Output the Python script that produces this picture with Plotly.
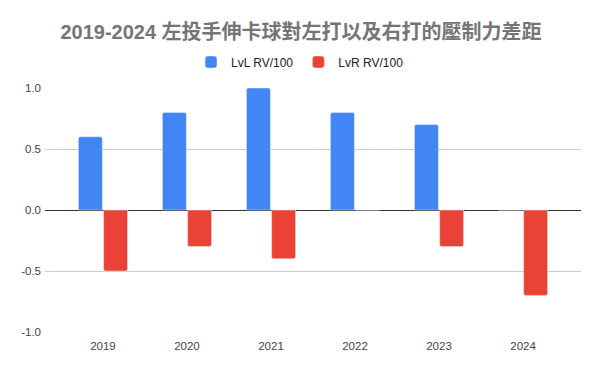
import plotly.graph_objects as go

years = ["2019", "2020", "2021", "2022", "2023", "2024"]
lvl = [0.6, 0.8, 1.0, 0.8, 0.7, 0.0]
lvr = [-0.5, -0.3, -0.4, 0.0, -0.3, -0.7]
yticks = [-1.0, -0.5, 0.0, 0.5, 1.0]
ytick_text = ["-1.0", "-0.5", "0.0", "0.5", "1.0"]

fig = go.Figure()
fig.add_trace(go.Bar(x=years, y=lvl, name="LvL RV/100", marker_color="#4285F4"))
fig.add_trace(go.Bar(x=years, y=lvr, name="LvR RV/100", marker_color="#EA4335"))

font_family = "'Liberation Sans', Arial, 'Noto Sans CJK TC', sans-serif"
H = 371
fig.update_layout(
    width=600, height=H,
    paper_bgcolor="white", plot_bgcolor="white",
    margin=dict(l=37, r=27, t=80, b=47),
    barmode="group", bargap=0.4, bargroupgap=0.05,
    barcornerradius=2,
    title=dict(text="<b>2019-2024 左投手伸卡球對左打以及右打的壓制力差距</b>",
               x=(301 - 8) / 600, xanchor="center", y=1 - 24 / H, yanchor="middle",
               font=dict(family=font_family, size=20, color="#757575")),
    legend=dict(orientation="h", x=(300 - 8 - 37) / (600 - 37 - 27), xanchor="center",
                y=1 + (80 - 54) / (H - 80 - 47), yanchor="middle",
                font=dict(family=font_family, size=12, color="#222222"),
                itemwidth=30, traceorder="normal"),
    font=dict(family=font_family),
)
fig.update_xaxes(range=[-0.69, 5.69], showgrid=False, showline=False, ticks="",
                 ticklabelstandoff=5,
                 tickfont=dict(size=11.5, color="#444444"))
fig.update_yaxes(range=[-1.0, 1.0], tickvals=yticks, ticktext=ytick_text,
                 showgrid=True, gridcolor="#cccccc", gridwidth=1,
                 zeroline=True, zerolinecolor="#333333", zerolinewidth=1,
                 ticklabelstandoff=3,
                 tickfont=dict(size=11.5, color="#444444"), ticks="", showline=False)

fig.write_html("out.html")
